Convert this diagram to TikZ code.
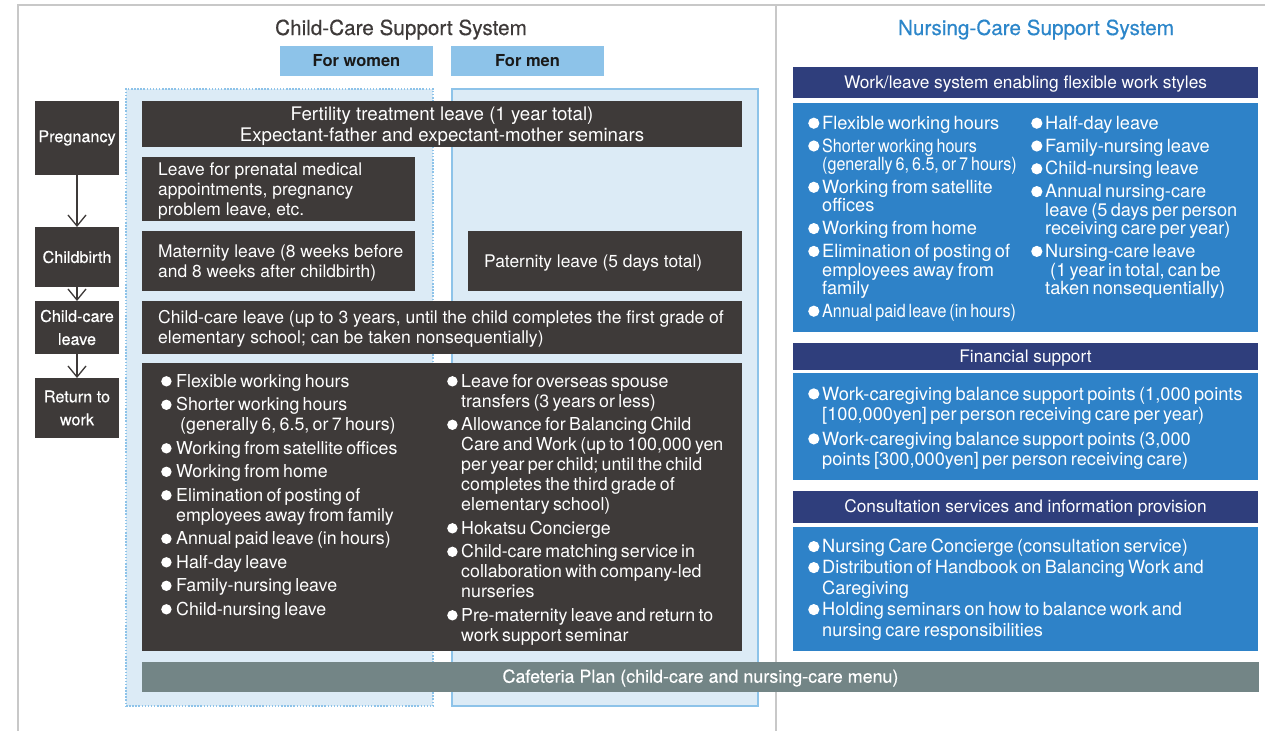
\documentclass[tikz,border=0pt]{standalone}
\usepackage{fontspec}
\usepackage{graphicx}
\setmainfont{TeX Gyre Heros}
\newfontfamily\medfont{TeX Gyre Heros}[FakeBold=0.4]
\usetikzlibrary{arrows.meta}
\definecolor{darkbox}{HTML}{3E3A39}
\definecolor{lightbg}{HTML}{DCEBF6}
\definecolor{headblue}{HTML}{8DC3E9}
\definecolor{navy}{HTML}{2F3E7C}
\definecolor{bluebox}{HTML}{2E82C8}
\definecolor{cafe}{HTML}{738586}
\definecolor{framegrey}{HTML}{C8C8C8}
\definecolor{titleblue}{HTML}{2C86CA}
\newlength\bulr
\newlength\bulw
\newcommand\bul{\tikz[baseline=0pt]\fill[white] (0pt,0pt) (\bulr,\bulr+0.5pt) circle[radius=\bulr];}
\newcommand\itm[1]{\hangindent=\bulw\hangafter=1\noindent\makebox[\bulw][l]{\bul}#1\par}
\newcommand\sq[1]{\scalebox{0.885}[1]{#1}}
\begin{document}
\begin{tikzpicture}[x=1pt,y=-1pt,
  box/.style={anchor=north west, inner sep=0pt, outer sep=0pt},
  dark/.style={box, fill=darkbox},
  oneline/.style={text height=13pt, text depth=1.6pt},
  stage/.style={dark, minimum width=84pt, text=white, align=center, font=\medfont\fontsize{16.2}{23}\selectfont},
  ltxt/.style={inner sep=0pt, text=white, align=left, font=\fontsize{17.4}{20}\selectfont},
  bullist/.style={inner sep=0pt, text=white, anchor=base west, text width=#1},
  navyhead/.style={box, oneline, fill=navy, minimum width=465pt, text=white, font=\fontsize{17.3}{20}\selectfont},
  bluepanel/.style={box, fill=bluebox, minimum width=465pt},
  arr/.style={draw=darkbox, line width=1.3pt, -{Straight Barb[length=11pt,width=18pt]}},
]
\useasboundingbox (0,0) rectangle (1265,731);
\fill[white] (0,0) rectangle (1265,731);
% frame
\draw[framegrey, line width=2pt] (17,5) -- (1265,5);
\draw[framegrey, line width=2.5pt] (18,4) -- (18,731);
\draw[framegrey, line width=2pt] (776,5) -- (776,731);

% titles
\node[anchor=base, text=darkbox, font=\medfont\fontsize{20.7}{24}\selectfont] (ctitle) at (401,35) {Child-Care Support System};
\node[anchor=base, text=titleblue, font=\medfont\fontsize{20.7}{24}\selectfont] (ntitle) at (1036,35) {Nursing-Care Support System};

\node[box, oneline, fill=headblue, minimum width=153pt, minimum height=30pt, text=black!90, font=\bfseries\fontsize{16.5}{20}\selectfont] (hw) at (280,46) {For women};
\node[box, oneline, fill=headblue, minimum width=153pt, minimum height=30pt, text=black!90, font=\bfseries\fontsize{16.5}{20}\selectfont] (hm) at (451,46) {For men};

% backgrounds
\node[box, fill=lightbg, draw=headblue, line width=1.5pt, dash pattern=on 1.5pt off 1.6pt, minimum width=307pt, minimum height=617pt] (wbg) at (126,89) {};
\node[box, fill=lightbg, draw=headblue, line width=2pt, minimum width=306pt, minimum height=617pt] (mbg) at (452,89) {};

% stages
\node[stage, minimum height=74pt] (preg) at (35,101) {Pregnancy};
\node[stage, minimum height=60pt] (birth) at (35,227) {Childbirth};
\node[stage, minimum height=53pt] (ccl) at (35,301) {Child-care\\leave};
\node[stage, minimum height=60pt] (ret) at (35,378) {Return to\\work};
\draw[arr] (preg) -- (birth);
\draw[arr] (birth) -- (ccl);
\draw[arr] (ccl) -- (ret);

% child-care boxes
\node[dark, minimum width=600pt, minimum height=46pt] (fert) at (142,101) {};
\node[inner sep=0pt, text=white, align=center, font=\fontsize{18.7}{20.7}\selectfont] (fertT) at ([yshift=-2.5pt]fert.center) {Fertility treatment leave (1 year total)\\Expectant-father and expectant-mother seminars};

\node[dark, minimum width=273pt, minimum height=64pt] (pren) at (142,157) {};
\node[ltxt, anchor=west] (prenT) at ([xshift=16pt,yshift=-2pt]pren.west) {Leave for prenatal medical\\appointments, pregnancy\\problem leave, etc.};

\node[dark, minimum width=273pt, minimum height=60pt] (mat) at (142,231) {};
\node[ltxt, anchor=west] (matT) at ([xshift=16pt,yshift=-2pt]mat.west) {Maternity leave (8 weeks before\\and 8 weeks after childbirth)};

\node[dark, minimum width=274pt, minimum height=60pt] (pat) at (468,231) {};
\node[ltxt, anchor=west] (patT) at ([xshift=16pt,yshift=-2.5pt]pat.west) {Paternity leave (5 days total)};

\node[dark, minimum width=600pt, minimum height=53pt] (ccbox) at (142,301) {};
\node[ltxt, anchor=west, font=\fontsize{17.55}{20}\selectfont] (ccT) at ([xshift=16pt,yshift=-1.5pt]ccbox.west) {Child-care leave (up to 3 years, until the child completes the first grade of\\elementary school; can be taken nonsequentially)};

\node[dark, minimum width=600pt, minimum height=288pt] (big) at (142,363) {};
\node[bullist=280pt] (bigL) at (161,387) {\setlength\bulr{5.2pt}\setlength\bulw{15pt}\fontsize{17.8}{20}\selectfont\setlength\parskip{3.5pt}%
\itm{Flexible working hours}
\itm{Shorter working hours\newline\hspace*{4pt}(generally 6, 6.5, or 7 hours)}
\itm{Working from satellite offices}
\itm{Working from home}
\itm{Elimination of posting of\newline employees away from family}
\itm{Annual paid leave (in hours)}
\itm{Half-day leave}
\itm{Family-nursing leave}
\itm{Child-nursing leave}};
\node[bullist=290pt] (bigR) at (447,387) {\setlength\bulr{5.2pt}\setlength\bulw{14pt}\fontsize{17.8}{20}\selectfont\setlength\parskip{3.5pt}%
\itm{Leave for overseas spouse\newline transfers (3 years or less)}
\itm{Allowance for Balancing Child\newline Care and Work (up to 100,000 yen\newline per year per child; until the child\newline completes the third grade of\newline elementary school)}
\itm{Hokatsu Concierge}
\itm{Child-care matching service in\newline collaboration with company-led\newline nurseries}
\itm{Pre-maternity leave and return to\newline work support seminar}};

\node[box, oneline, fill=cafe, minimum width=1117pt, minimum height=30pt, text=white, font=\medfont\fontsize{17.9}{20}\selectfont] (cafe) at (142,662) {Cafeteria Plan (child-care and nursing-care menu)};

% nursing-care side
\node[navyhead, minimum height=31pt] (h1) at (793,67) {Work/leave system enabling flexible work styles};
\node[bluepanel, minimum height=229pt] (p1) at (793,103) {};
\node[bullist=220pt] (p1L) at (808,129.3) {\setlength\bulr{5.6pt}\setlength\bulw{14pt}\fontsize{18.2}{18.5}\selectfont\setlength\parskip{4.3pt}%
\itm{Flexible working hours}
\itm{\sq{Shorter working hours}\newline\sq{(generally 6, 6.5, or 7 hours)}}
\itm{Working from satellite\newline offices}
\itm{Working from home}
\itm{Elimination of posting of\newline employees away from\newline family}
\itm{\sq{Annual paid leave (in hours)}}};
\node[bullist=225pt] (p1R) at (1031,129.3) {\setlength\bulr{5.6pt}\setlength\bulw{14pt}\fontsize{18.2}{18.5}\selectfont\setlength\parskip{4.3pt}%
\itm{Half-day leave}
\itm{Family-nursing leave}
\itm{Child-nursing leave}
\itm{Annual nursing-care\newline leave (5 days per person\newline receiving care per year)}
\itm{Nursing-care leave\newline\hspace*{5pt}(1 year in total, can be\newline taken nonsequentially)}};

\node[navyhead, minimum height=27pt] (h2) at (793,343) {Financial support};
\node[bluepanel, minimum height=107pt] (p2) at (793,373) {};
\node[bullist=445pt] (p2L) at (808,400) {\setlength\bulr{5.6pt}\setlength\bulw{14pt}\fontsize{18.2}{20.7}\selectfont\setlength\parskip{3.6pt}%
\itm{Work-caregiving balance support points (1,000 points\newline [100,000yen] per person receiving care per year)}
\itm{Work-caregiving balance support points (3,000\newline points [300,000yen] per person receiving care)}};

\node[navyhead, minimum height=32pt] (h3) at (793,491) {Consultation services and information provision};
\node[bluepanel, minimum height=124pt] (p3) at (793,527) {};
\node[bullist=445pt] (p3L) at (808,552.7) {\setlength\bulr{5.6pt}\setlength\bulw{14pt}\fontsize{18.2}{21}\selectfont\setlength\parskip{0pt}%
\itm{Nursing Care Concierge (consultation service)}
\itm{Distribution of Handbook on Balancing Work and\newline Caregiving}
\itm{Holding seminars on how to balance work and\newline nursing care responsibilities}};
\end{tikzpicture}
\end{document}
